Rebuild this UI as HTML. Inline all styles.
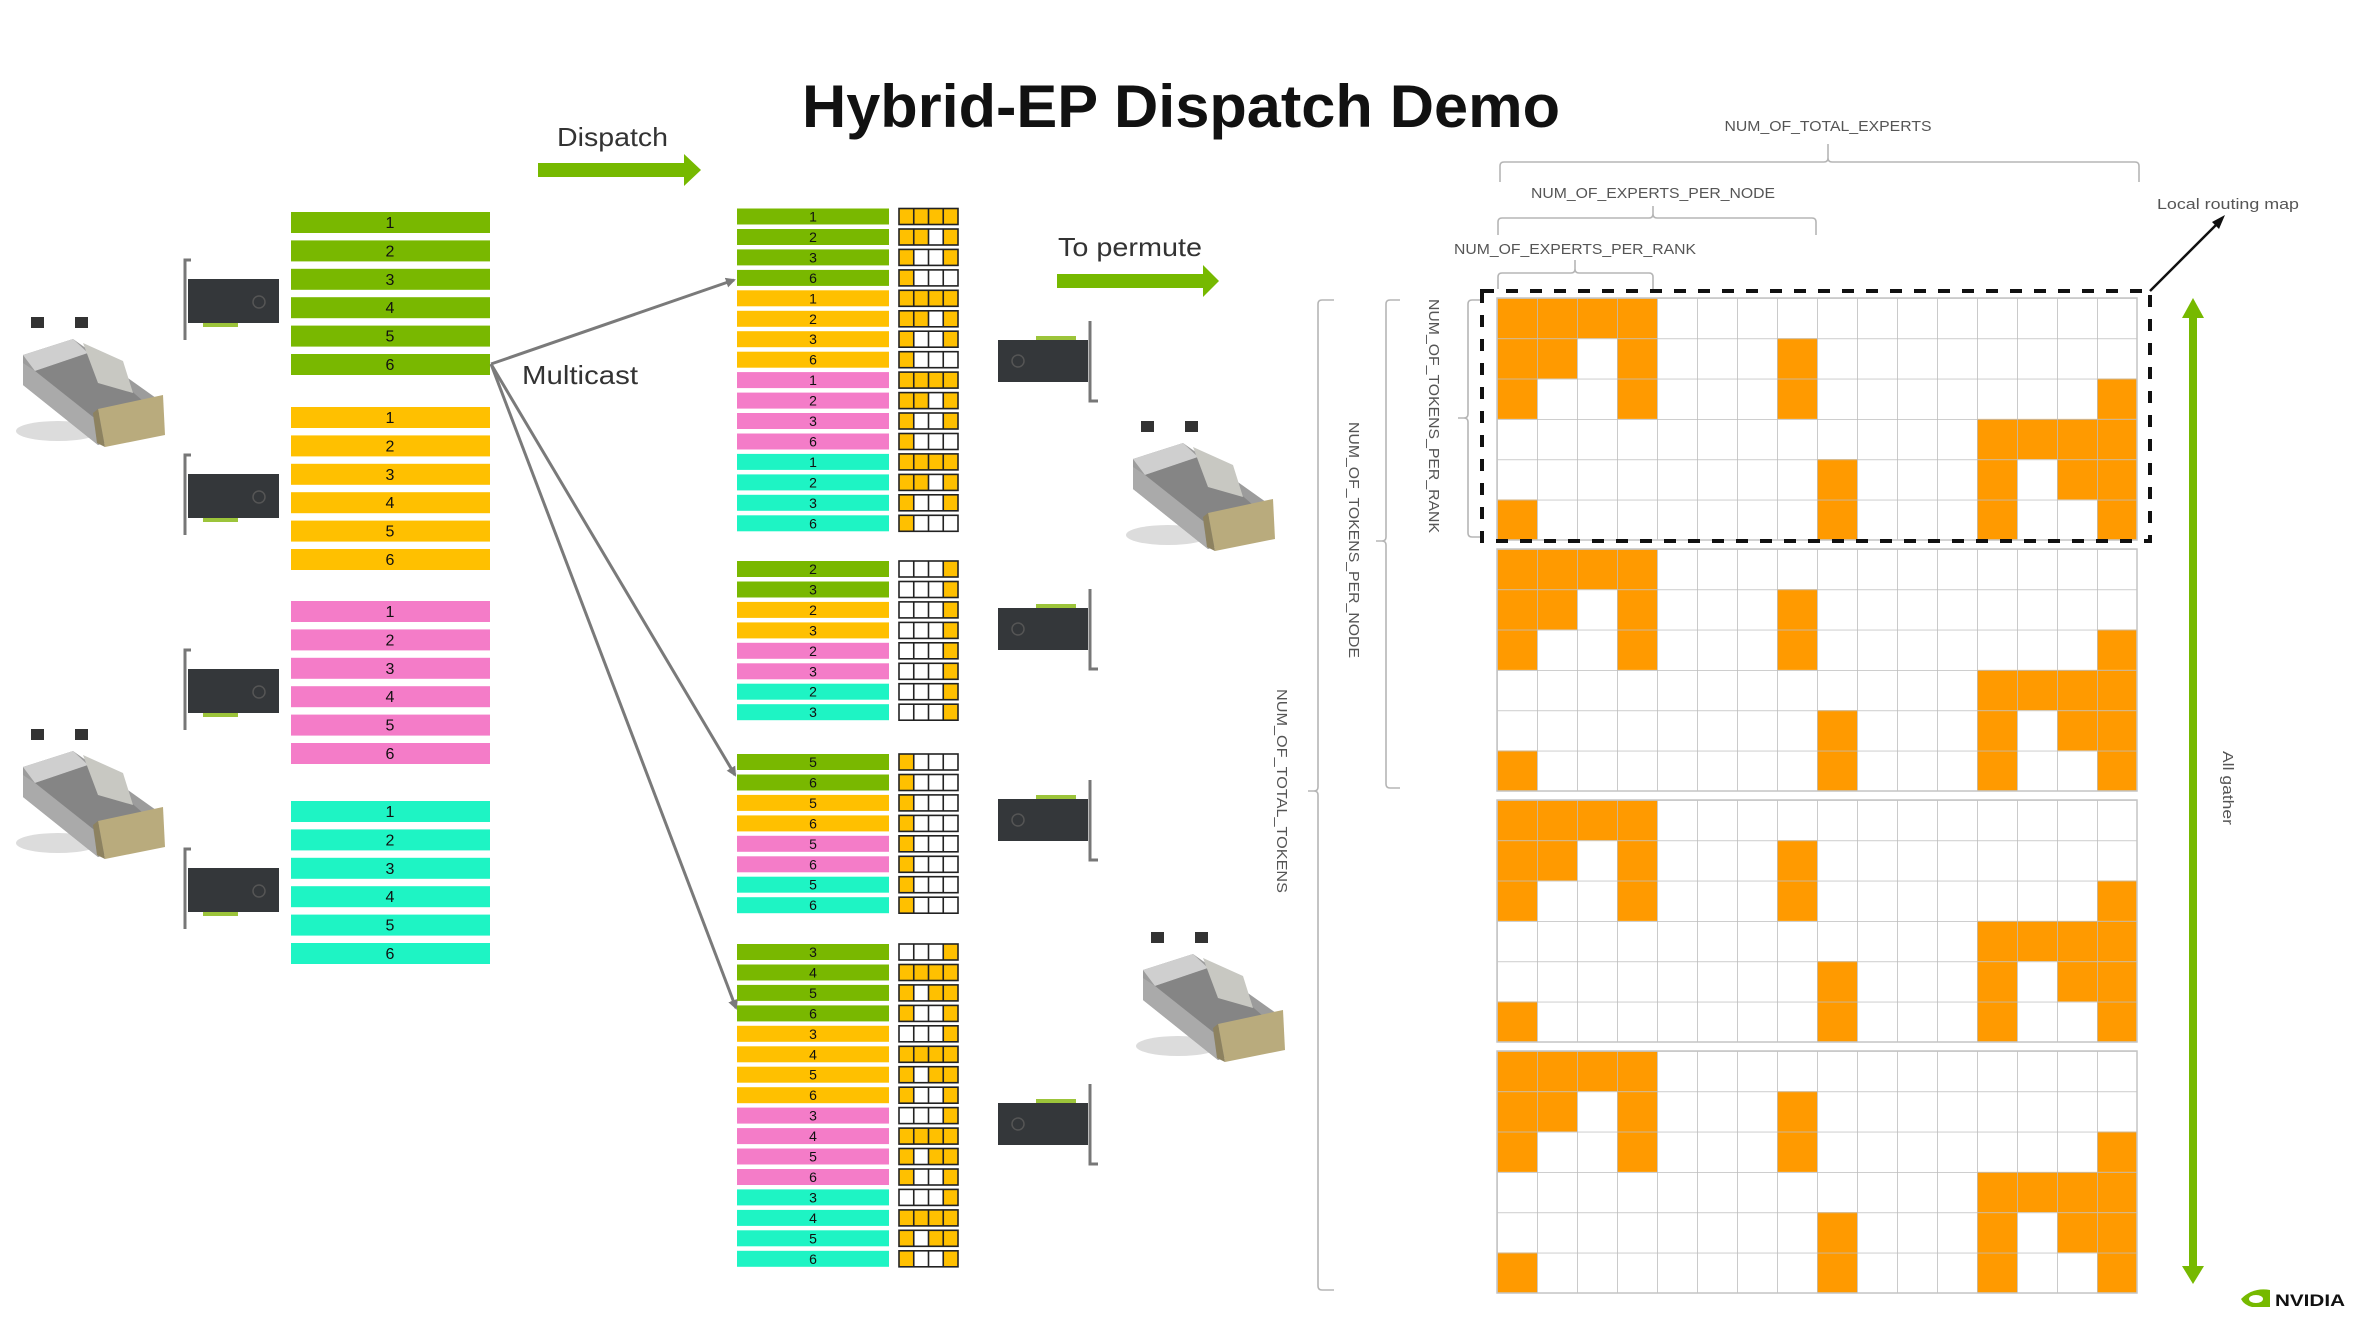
<!DOCTYPE html>
<html><head><meta charset="utf-8"><style>
html,body{margin:0;padding:0;background:#fff;}
svg{display:block;}
text{font-family:"Liberation Sans",sans-serif;}
</style></head><body>
<svg width="2376" height="1327" viewBox="0 0 2376 1327" xmlns="http://www.w3.org/2000/svg">
<defs>
  <g id="c1111"><rect width="59" height="16" fill="#ffc000"/><g stroke="#222" stroke-width="1.6" fill="none"><rect width="59" height="16"/><path d="M14.75 0V16M29.5 0V16M44.25 0V16"/></g></g>
  <g id="c1101"><rect width="59" height="16" fill="#fff"/><rect width="29.5" height="16" fill="#ffc000"/><rect x="44.25" width="14.75" height="16" fill="#ffc000"/><g stroke="#222" stroke-width="1.6" fill="none"><rect width="59" height="16"/><path d="M14.75 0V16M29.5 0V16M44.25 0V16"/></g></g>
  <g id="c1001"><rect width="59" height="16" fill="#fff"/><rect width="14.75" height="16" fill="#ffc000"/><rect x="44.25" width="14.75" height="16" fill="#ffc000"/><g stroke="#222" stroke-width="1.6" fill="none"><rect width="59" height="16"/><path d="M14.75 0V16M29.5 0V16M44.25 0V16"/></g></g>
  <g id="c1000"><rect width="59" height="16" fill="#fff"/><rect width="14.75" height="16" fill="#ffc000"/><g stroke="#222" stroke-width="1.6" fill="none"><rect width="59" height="16"/><path d="M14.75 0V16M29.5 0V16M44.25 0V16"/></g></g>
  <g id="c0001"><rect width="59" height="16" fill="#fff"/><rect x="44.25" width="14.75" height="16" fill="#ffc000"/><g stroke="#222" stroke-width="1.6" fill="none"><rect width="59" height="16"/><path d="M14.75 0V16M29.5 0V16M44.25 0V16"/></g></g>
  <g id="c1011"><rect width="59" height="16" fill="#fff"/><rect width="14.75" height="16" fill="#ffc000"/><rect x="29.5" width="29.5" height="16" fill="#ffc000"/><g stroke="#222" stroke-width="1.6" fill="none"><rect width="59" height="16"/><path d="M14.75 0V16M29.5 0V16M44.25 0V16"/></g></g>

  <g id="blk">
    <rect width="640" height="242" fill="#fff"/>
    <g fill="#ff9a00">
      <rect x="0" y="0" width="160" height="40.3"/>
      <rect x="0" y="40.3" width="80" height="40.3"/><rect x="120" y="40.3" width="40" height="40.3"/><rect x="280" y="40.3" width="40" height="40.3"/>
      <rect x="0" y="80.6" width="40" height="40.3"/><rect x="120" y="80.6" width="40" height="40.3"/><rect x="280" y="80.6" width="40" height="40.3"/><rect x="600" y="80.6" width="40" height="40.3"/>
      <rect x="480" y="120.9" width="160" height="40.3"/>
      <rect x="320" y="161.2" width="40" height="40.3"/><rect x="480" y="161.2" width="40" height="40.3"/><rect x="560" y="161.2" width="80" height="40.3"/>
      <rect x="0" y="201.5" width="40" height="40.5"/><rect x="320" y="201.5" width="40" height="40.5"/><rect x="480" y="201.5" width="40" height="40.5"/><rect x="600" y="201.5" width="40" height="40.5"/>
    </g>
    <rect width="640" height="242" fill="url(#gp)"/>
    <rect width="640" height="242" fill="none" stroke="#c4c4c4" stroke-width="1.5"/>
  </g>
  <pattern id="gp" width="40" height="40.333" patternUnits="userSpaceOnUse">
    <path d="M0 0H40M0 0V40.333" stroke="#bdbdbd" stroke-width="1.6" fill="none"/>
  </pattern>

  <g id="server">
    <ellipse cx="45" cy="118" rx="42" ry="10" fill="#dcdcdc"/>
    <polygon points="10,42 60,26 150,90 150,112 85,132 10,72" fill="#9c9c9c"/>
    <polygon points="10,42 60,26 75,40 22,58" fill="#cfcfcf"/>
    <polygon points="22,58 75,40 130,88 80,104" fill="#858585"/>
    <polygon points="70,30 110,48 120,80 85,70" fill="#c8c8c2"/>
    <polygon points="10,50 22,58 80,104 85,132 10,72" fill="#aaaaaa"/>
    <polygon points="85,96 150,82 152,122 92,134" fill="#b9ab7d"/>
    <polygon points="85,96 92,134 84,130 80,100" fill="#8d8260"/>
    <rect x="18" y="4" width="13" height="11" fill="#333"/>
    <rect x="62" y="4" width="13" height="11" fill="#333"/>
  </g>
  <g id="cardL">
    <path d="M8 0H2V80" stroke="#777" stroke-width="3" fill="none"/>
    <rect x="5" y="19" width="91" height="44" fill="#34373a"/>
    <rect x="20" y="63" width="35" height="4" fill="#9cc43a"/>
    <circle cx="76" cy="42" r="6" fill="none" stroke="#555" stroke-width="1.5"/>
  </g>
  <g id="cardR">
    <path d="M94 0V80H102" stroke="#777" stroke-width="3" fill="none"/>
    <rect x="2" y="19" width="90" height="42" fill="#34373a"/>
    <rect x="40" y="15" width="40" height="4" fill="#9cc43a"/>
    <circle cx="22" cy="40" r="6" fill="none" stroke="#555" stroke-width="1.5"/>
  </g>
  <marker id="ah" markerWidth="10" markerHeight="10" refX="8" refY="5" orient="auto" markerUnits="userSpaceOnUse">
    <path d="M0 0L10 5L0 10z" fill="#7a7a7a"/>
  </marker>
</defs>

<text x="802" y="127" font-size="60" font-weight="bold" fill="#111" textLength="758" lengthAdjust="spacingAndGlyphs">Hybrid-EP Dispatch Demo</text>

<text x="557" y="146" font-size="26" fill="#333" textLength="111" lengthAdjust="spacingAndGlyphs">Dispatch</text>
<rect x="538" y="163" width="148" height="14" fill="#76b900"/>
<polygon points="684,154 701,170 684,186" fill="#76b900"/>
<text x="1058" y="256" font-size="26" fill="#333" textLength="144" lengthAdjust="spacingAndGlyphs">To permute</text>
<rect x="1057" y="274" width="148" height="14" fill="#76b900"/>
<polygon points="1203,265 1219,281 1203,297" fill="#76b900"/>

<use href="#server" x="13" y="313"/>
<use href="#server" x="13" y="725"/>
<use href="#cardL" x="183" y="260"/>
<use href="#cardL" x="183" y="455"/>
<use href="#cardL" x="183" y="650"/>
<use href="#cardL" x="183" y="849"/>

<g font-size="16" text-anchor="middle" fill="#111">
<g fill="#79b800"><rect x="291" y="212" width="199" height="21"/><rect x="291" y="240.4" width="199" height="21"/><rect x="291" y="268.8" width="199" height="21"/><rect x="291" y="297.2" width="199" height="21"/><rect x="291" y="325.6" width="199" height="21"/><rect x="291" y="354" width="199" height="21"/></g>
<text x="390" y="228">1</text><text x="390" y="256.4">2</text><text x="390" y="284.8">3</text><text x="390" y="313.2">4</text><text x="390" y="341.6">5</text><text x="390" y="370">6</text>
<g fill="#ffc000"><rect x="291" y="407" width="199" height="21"/><rect x="291" y="435.4" width="199" height="21"/><rect x="291" y="463.8" width="199" height="21"/><rect x="291" y="492.2" width="199" height="21"/><rect x="291" y="520.6" width="199" height="21"/><rect x="291" y="549" width="199" height="21"/></g>
<text x="390" y="423">1</text><text x="390" y="451.4">2</text><text x="390" y="479.8">3</text><text x="390" y="508.2">4</text><text x="390" y="536.6">5</text><text x="390" y="565">6</text>
<g fill="#f47cc8"><rect x="291" y="601" width="199" height="21"/><rect x="291" y="629.4" width="199" height="21"/><rect x="291" y="657.8" width="199" height="21"/><rect x="291" y="686.2" width="199" height="21"/><rect x="291" y="714.6" width="199" height="21"/><rect x="291" y="743" width="199" height="21"/></g>
<text x="390" y="617">1</text><text x="390" y="645.4">2</text><text x="390" y="673.8">3</text><text x="390" y="702.2">4</text><text x="390" y="730.6">5</text><text x="390" y="759">6</text>
<g fill="#1ef4c4"><rect x="291" y="801" width="199" height="21"/><rect x="291" y="829.4" width="199" height="21"/><rect x="291" y="857.8" width="199" height="21"/><rect x="291" y="886.2" width="199" height="21"/><rect x="291" y="914.6" width="199" height="21"/><rect x="291" y="943" width="199" height="21"/></g>
<text x="390" y="817">1</text><text x="390" y="845.4">2</text><text x="390" y="873.8">3</text><text x="390" y="902.2">4</text><text x="390" y="930.6">5</text><text x="390" y="959">6</text>
</g>

<text x="522" y="384" font-size="26" fill="#333" textLength="116" lengthAdjust="spacingAndGlyphs">Multicast</text>
<g stroke="#7a7a7a" stroke-width="3" fill="none" marker-end="url(#ah)">
<line x1="491" y1="364" x2="734" y2="280"/>
<line x1="491" y1="364" x2="735" y2="775"/>
<line x1="491" y1="364" x2="736" y2="1008"/>
</g>

<g font-size="14" text-anchor="middle" fill="#111">
<g fill="#79b800"><rect x="737" y="208.5" width="152" height="16"/><rect x="737" y="229" width="152" height="16"/><rect x="737" y="249.4" width="152" height="16"/><rect x="737" y="269.9" width="152" height="16"/></g>
<g fill="#ffc000"><rect x="737" y="290.3" width="152" height="16"/><rect x="737" y="310.8" width="152" height="16"/><rect x="737" y="331.2" width="152" height="16"/><rect x="737" y="351.7" width="152" height="16"/></g>
<g fill="#f47cc8"><rect x="737" y="372.1" width="152" height="16"/><rect x="737" y="392.6" width="152" height="16"/><rect x="737" y="413" width="152" height="16"/><rect x="737" y="433.5" width="152" height="16"/></g>
<g fill="#1ef4c4"><rect x="737" y="453.9" width="152" height="16"/><rect x="737" y="474.4" width="152" height="16"/><rect x="737" y="494.8" width="152" height="16"/><rect x="737" y="515.3" width="152" height="16"/></g>
<text x="813" y="221.5">1</text><text x="813" y="242">2</text><text x="813" y="262.4">3</text><text x="813" y="282.9">6</text>
<text x="813" y="303.3">1</text><text x="813" y="323.8">2</text><text x="813" y="344.2">3</text><text x="813" y="364.7">6</text>
<text x="813" y="385.1">1</text><text x="813" y="405.6">2</text><text x="813" y="426">3</text><text x="813" y="446.5">6</text>
<text x="813" y="466.9">1</text><text x="813" y="487.4">2</text><text x="813" y="507.8">3</text><text x="813" y="528.3">6</text>
<g fill="#79b800"><rect x="737" y="561" width="152" height="16"/><rect x="737" y="581.5" width="152" height="16"/></g>
<g fill="#ffc000"><rect x="737" y="601.9" width="152" height="16"/><rect x="737" y="622.4" width="152" height="16"/></g>
<g fill="#f47cc8"><rect x="737" y="642.8" width="152" height="16"/><rect x="737" y="663.3" width="152" height="16"/></g>
<g fill="#1ef4c4"><rect x="737" y="683.7" width="152" height="16"/><rect x="737" y="704.2" width="152" height="16"/></g>
<text x="813" y="574">2</text><text x="813" y="594.5">3</text><text x="813" y="614.9">2</text><text x="813" y="635.4">3</text><text x="813" y="655.8">2</text><text x="813" y="676.3">3</text><text x="813" y="696.7">2</text><text x="813" y="717.2">3</text>
<g fill="#79b800"><rect x="737" y="754" width="152" height="16"/><rect x="737" y="774.5" width="152" height="16"/></g>
<g fill="#ffc000"><rect x="737" y="794.9" width="152" height="16"/><rect x="737" y="815.4" width="152" height="16"/></g>
<g fill="#f47cc8"><rect x="737" y="835.8" width="152" height="16"/><rect x="737" y="856.3" width="152" height="16"/></g>
<g fill="#1ef4c4"><rect x="737" y="876.7" width="152" height="16"/><rect x="737" y="897.2" width="152" height="16"/></g>
<text x="813" y="767">5</text><text x="813" y="787.5">6</text><text x="813" y="807.9">5</text><text x="813" y="828.4">6</text><text x="813" y="848.8">5</text><text x="813" y="869.3">6</text><text x="813" y="889.7">5</text><text x="813" y="910.2">6</text>
<g fill="#79b800"><rect x="737" y="944" width="152" height="16"/><rect x="737" y="964.5" width="152" height="16"/><rect x="737" y="984.9" width="152" height="16"/><rect x="737" y="1005.4" width="152" height="16"/></g>
<g fill="#ffc000"><rect x="737" y="1025.8" width="152" height="16"/><rect x="737" y="1046.3" width="152" height="16"/><rect x="737" y="1066.7" width="152" height="16"/><rect x="737" y="1087.2" width="152" height="16"/></g>
<g fill="#f47cc8"><rect x="737" y="1107.6" width="152" height="16"/><rect x="737" y="1128.1" width="152" height="16"/><rect x="737" y="1148.5" width="152" height="16"/><rect x="737" y="1169" width="152" height="16"/></g>
<g fill="#1ef4c4"><rect x="737" y="1189.4" width="152" height="16"/><rect x="737" y="1209.9" width="152" height="16"/><rect x="737" y="1230.3" width="152" height="16"/><rect x="737" y="1250.8" width="152" height="16"/></g>
<text x="813" y="957">3</text><text x="813" y="977.5">4</text><text x="813" y="997.9">5</text><text x="813" y="1018.4">6</text>
<text x="813" y="1038.8">3</text><text x="813" y="1059.3">4</text><text x="813" y="1079.7">5</text><text x="813" y="1100.2">6</text>
<text x="813" y="1120.6">3</text><text x="813" y="1141.1">4</text><text x="813" y="1161.5">5</text><text x="813" y="1182">6</text>
<text x="813" y="1202.4">3</text><text x="813" y="1222.9">4</text><text x="813" y="1243.3">5</text><text x="813" y="1263.8">6</text>
</g>

<use href="#c1111" x="899" y="208.5"/><use href="#c1101" x="899" y="229"/><use href="#c1001" x="899" y="249.4"/><use href="#c1000" x="899" y="269.9"/>
<use href="#c1111" x="899" y="290.3"/><use href="#c1101" x="899" y="310.8"/><use href="#c1001" x="899" y="331.2"/><use href="#c1000" x="899" y="351.7"/>
<use href="#c1111" x="899" y="372.1"/><use href="#c1101" x="899" y="392.6"/><use href="#c1001" x="899" y="413"/><use href="#c1000" x="899" y="433.5"/>
<use href="#c1111" x="899" y="453.9"/><use href="#c1101" x="899" y="474.4"/><use href="#c1001" x="899" y="494.8"/><use href="#c1000" x="899" y="515.3"/>
<use href="#c0001" x="899" y="561"/><use href="#c0001" x="899" y="581.5"/><use href="#c0001" x="899" y="601.9"/><use href="#c0001" x="899" y="622.4"/>
<use href="#c0001" x="899" y="642.8"/><use href="#c0001" x="899" y="663.3"/><use href="#c0001" x="899" y="683.7"/><use href="#c0001" x="899" y="704.2"/>
<use href="#c1000" x="899" y="754"/><use href="#c1000" x="899" y="774.5"/><use href="#c1000" x="899" y="794.9"/><use href="#c1000" x="899" y="815.4"/>
<use href="#c1000" x="899" y="835.8"/><use href="#c1000" x="899" y="856.3"/><use href="#c1000" x="899" y="876.7"/><use href="#c1000" x="899" y="897.2"/>
<use href="#c0001" x="899" y="944"/><use href="#c1111" x="899" y="964.5"/><use href="#c1011" x="899" y="984.9"/><use href="#c1001" x="899" y="1005.4"/>
<use href="#c0001" x="899" y="1025.8"/><use href="#c1111" x="899" y="1046.3"/><use href="#c1011" x="899" y="1066.7"/><use href="#c1001" x="899" y="1087.2"/>
<use href="#c0001" x="899" y="1107.6"/><use href="#c1111" x="899" y="1128.1"/><use href="#c1011" x="899" y="1148.5"/><use href="#c1001" x="899" y="1169"/>
<use href="#c0001" x="899" y="1189.4"/><use href="#c1111" x="899" y="1209.9"/><use href="#c1011" x="899" y="1230.3"/><use href="#c1001" x="899" y="1250.8"/>

<use href="#cardR" x="996" y="321"/>
<use href="#cardR" x="996" y="589"/>
<use href="#cardR" x="996" y="780"/>
<use href="#cardR" x="996" y="1084"/>
<use href="#server" x="1123" y="417"/>
<use href="#server" x="1133" y="928"/>

<use href="#blk" x="1497" y="298"/>
<use href="#blk" x="1497" y="549"/>
<use href="#blk" x="1497" y="800"/>
<use href="#blk" x="1497" y="1051"/>

<rect x="1482" y="291" width="668" height="250" fill="none" stroke="#111" stroke-width="4" stroke-dasharray="12,12"/>
<line x1="2150" y1="291" x2="2221" y2="220" stroke="#111" stroke-width="2.5"/>
<polygon points="2225,215 2212,222 2219,229" fill="#111"/>
<text x="2157" y="209" font-size="15" fill="#555" textLength="142" lengthAdjust="spacingAndGlyphs">Local routing map</text>

<g stroke="#b5b5b5" stroke-width="1.6" fill="none">
<path d="M1500 182V166Q1500 162 1504 162H1824Q1828 162 1828 158V144M1828 158Q1828 162 1832 162H2135Q2139 162 2139 166V182"/>
<path d="M1498 235V222Q1498 218 1502 218H1649Q1653 218 1653 214V206M1653 214Q1653 218 1657 218H1812Q1816 218 1816 222V235"/>
<path d="M1498 289V277Q1498 273 1502 273H1571Q1575 273 1575 269V260M1575 269Q1575 273 1579 273H1649Q1653 273 1653 277V289"/>
<path d="M1480 300H1472Q1468 300 1468 304V414Q1468 418 1464 418H1458M1464 418Q1468 418 1468 422V533Q1468 537 1472 537H1480"/>
<path d="M1400 300H1390Q1386 300 1386 304V537Q1386 541 1382 541H1376M1382 541Q1386 541 1386 545V784Q1386 788 1390 788H1400"/>
<path d="M1334 300H1322Q1318 300 1318 304V787Q1318 791 1314 791H1308M1314 791Q1318 791 1318 795V1286Q1318 1290 1322 1290H1334"/>
</g>
<g font-size="15" fill="#555" text-anchor="middle">
<text x="1828" y="131" textLength="207" lengthAdjust="spacingAndGlyphs">NUM_OF_TOTAL_EXPERTS</text>
<text x="1653" y="198" textLength="244" lengthAdjust="spacingAndGlyphs">NUM_OF_EXPERTS_PER_NODE</text>
<text x="1575" y="254" textLength="242" lengthAdjust="spacingAndGlyphs">NUM_OF_EXPERTS_PER_RANK</text>
<text transform="translate(1429,416) rotate(90)" textLength="234" lengthAdjust="spacingAndGlyphs">NUM_OF_TOKENS_PER_RANK</text>
<text transform="translate(1349,540) rotate(90)" textLength="236" lengthAdjust="spacingAndGlyphs">NUM_OF_TOKENS_PER_NODE</text>
<text transform="translate(1277,791) rotate(90)" textLength="204" lengthAdjust="spacingAndGlyphs">NUM_OF_TOTAL_TOKENS</text>
<text transform="translate(2223,788) rotate(90)" textLength="74" lengthAdjust="spacingAndGlyphs">All gather</text>
</g>

<rect x="2189" y="314" width="8" height="956" fill="#76b900"/>
<polygon points="2182,318 2193,298 2204,318" fill="#76b900"/>
<polygon points="2182,1266 2193,1284 2204,1266" fill="#76b900"/>

<path d="M2241 1299Q2253 1287 2270 1290V1307H2252Q2244 1305 2241 1299Z" fill="#76b900"/>
<ellipse cx="2256" cy="1299" rx="7" ry="4" fill="#fff"/>
<text x="2275" y="1306" font-size="17" font-weight="bold" fill="#111" textLength="70" lengthAdjust="spacingAndGlyphs">NVIDIA</text>
</svg>
</body></html>
